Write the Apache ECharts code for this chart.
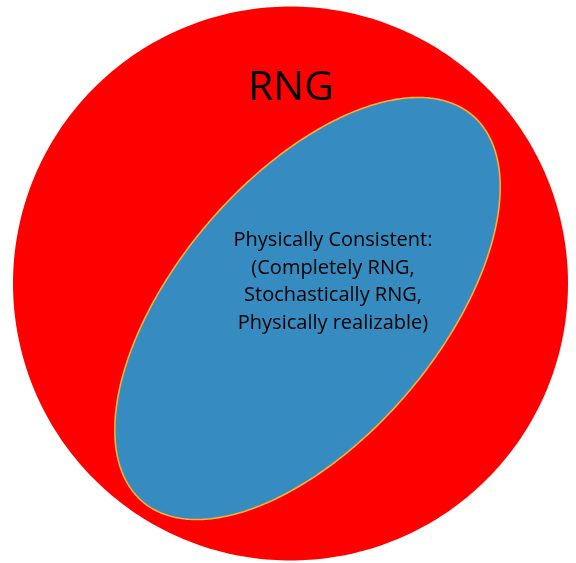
<!DOCTYPE html>
<html><head><meta charset="utf-8">
<script src="https://cdn.jsdelivr.net/npm/echarts@6/dist/echarts.min.js"></script>
<style>html,body{margin:0;padding:0;background:#fff}#c{width:576px;height:563px}</style>
</head><body><div id="c"></div>
<script>
// Shapes: [centerX, centerY, semiAxisA, semiAxisB, rotationDeg]
const shapeNames = ['RNG', 'Physically Consistent'];
const shapeGeom = [
  [290.5, 283.5, 277.5, 277, 0],
  [307.5, 308.5, 254, 131, 49.5]
];
const shapeFill = ['#FF0000', '#368CC0'];
const shapeStroke = ['#FF0000', '#F2B233'];
// Labels: [x, y]
const labelTexts = ['RNG', 'Physically Consistent:\n(Completely RNG,\nStochastically RNG,\nPhysically realizable)'];
const labelPos = [[291, 88], [333, 282]];
const labelSizes = [41, 20];

const chart = echarts.init(document.getElementById('c'));
chart.setOption({
  animation: false,
  grid: {left: 0, right: 0, top: 0, bottom: 0},
  xAxis: {type: 'value', min: 0, max: 576, show: false},
  yAxis: {type: 'value', min: 0, max: 563, inverse: true, show: false},
  series: [{
    type: 'custom',
    data: shapeGeom.map((g, i) => ({name: shapeNames[i], value: g})),
    renderItem: function (params, api) {
      const i = params.dataIndex;
      const cx = api.value(0), cy = api.value(1), a = api.value(2), b = api.value(3), rot = api.value(4) * Math.PI / 180;
      const pts = [];
      const N = 360;
      for (let k = 0; k < N; k++) {
        const t = k / N * 2 * Math.PI;
        const ex = a * Math.cos(t), ey = b * Math.sin(t);
        const x = cx + ex * Math.cos(rot) + ey * Math.sin(rot);
        const y = cy + ex * Math.sin(-rot) + ey * Math.cos(rot);
        pts.push(api.coord([x, y]));
      }
      return {
        type: 'polygon',
        shape: {points: pts},
        style: {fill: shapeFill[i], stroke: shapeStroke[i], lineWidth: i === 1 ? 1.6 : 0}
      };
    }
  }, {
    type: 'custom',
    data: labelPos,
    z: 10,
    renderItem: function (params, api) {
      const i = params.dataIndex;
      const p = api.coord([api.value(0), api.value(1)]);
      return {
        type: 'text',
        x: p[0], y: p[1],
        style: {
          text: labelTexts[i],
          fill: '#000',
          font: labelSizes[i] + 'px "Open Sans", sans-serif',
          align: 'center',
          verticalAlign: 'middle',
          lineHeight: i === 1 ? 27.5 : 46
        }
      };
    }
  }]
});
</script></body></html>
